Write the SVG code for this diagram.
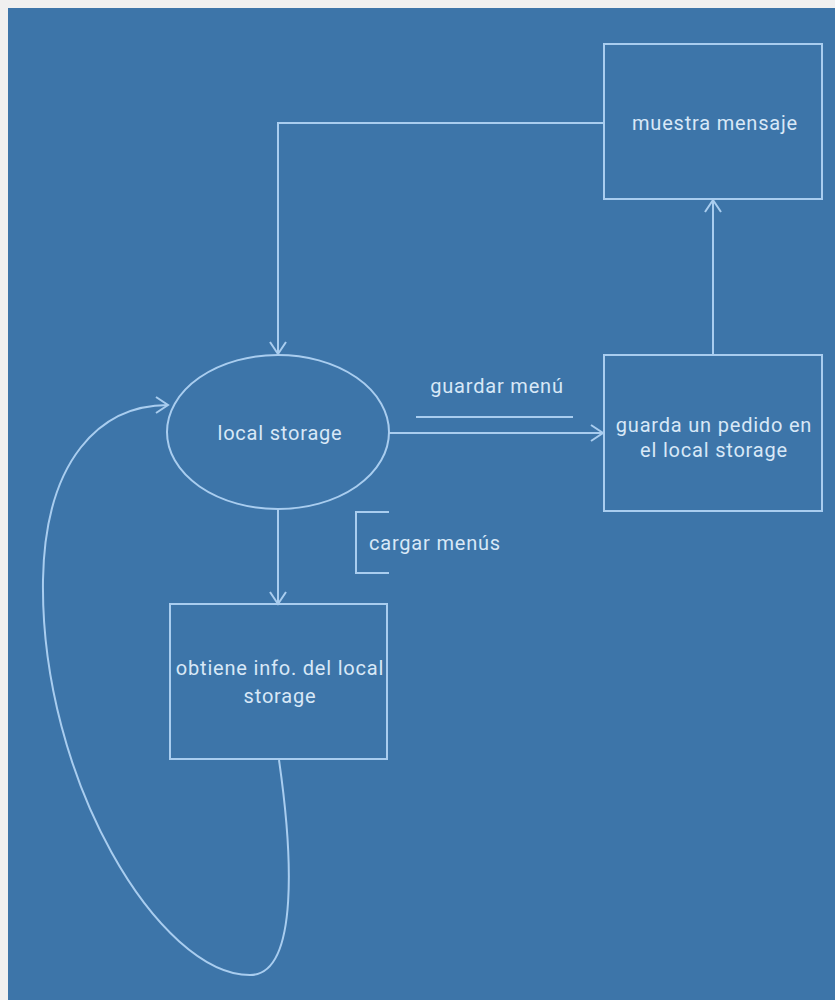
<svg xmlns="http://www.w3.org/2000/svg" width="835" height="1000" viewBox="0 0 835 1000">
  <defs>
    <style>
      .shape { fill: none; stroke: #a9cdef; stroke-width: 2; }
      .edge { fill: none; stroke: #a9cdef; stroke-width: 2; }
      .label { font-family: Roboto, "Liberation Sans", sans-serif; font-size: 20px; letter-spacing: 0.8px; fill: #d8e8f7; }
      .mid { text-anchor: middle; }
    </style>
    <marker id="open-arrow" viewBox="0 0 20 20" refX="18" refY="10" markerWidth="20" markerHeight="20" markerUnits="userSpaceOnUse" orient="auto">
      <polyline points="6,2 18,10 6,18" fill="none" stroke="#a9cdef" stroke-width="2"/>
    </marker>
  </defs>

  <!-- page frame and canvas -->
  <rect x="0" y="0" width="835" height="1000" fill="#f0f0f0"/>
  <rect x="8" y="8" width="827" height="992" fill="#3d75a9"/>

  <g id="connectors">
    <!-- muestra mensaje back to local storage -->
    <polyline class="edge" points="604,123 278,123 278,354" marker-end="url(#open-arrow)"/>
    <!-- local storage to guarda un pedido -->
    <line class="edge" x1="389" y1="433" x2="603" y2="433" marker-end="url(#open-arrow)"/>
    <!-- guarda un pedido to muestra mensaje -->
    <line class="edge" x1="713" y1="355" x2="713" y2="200" marker-end="url(#open-arrow)"/>
    <!-- local storage to obtiene info -->
    <line class="edge" x1="278" y1="510" x2="278" y2="604" marker-end="url(#open-arrow)"/>
    <!-- obtiene info looping back to local storage -->
    <path class="edge" d="M 279 760 C 292 850, 300 975, 250 975 C 160 975, 40 780, 43 580 C 45 460, 100 405, 168 405" marker-end="url(#open-arrow)"/>
  </g>

  <g id="label-guardar-menu">
    <text class="label mid" x="497" y="393">guardar menú</text>
    <line class="edge" x1="416" y1="417" x2="573" y2="417"/>
  </g>

  <g id="label-cargar-menus">
    <polyline class="edge" points="389,512 356,512 356,573 389,573"/>
    <text class="label" x="369" y="550">cargar menús</text>
  </g>

  <g id="node-muestra-mensaje">
    <rect class="shape" x="604" y="44" width="218" height="155"/>
    <text class="label mid" x="715" y="130">muestra mensaje</text>
  </g>

  <g id="node-local-storage">
    <ellipse class="shape" cx="278" cy="432" rx="111" ry="77"/>
    <text class="label mid" x="280" y="440">local storage</text>
  </g>

  <g id="node-guarda-pedido">
    <rect class="shape" x="604" y="355" width="218" height="156"/>
    <text class="label mid" x="714" y="432">guarda un pedido en</text>
    <text class="label mid" x="714" y="457">el local storage</text>
  </g>

  <g id="node-obtiene-info">
    <rect class="shape" x="170" y="604" width="217" height="155"/>
    <text class="label mid" x="280" y="675">obtiene info. del local</text>
    <text class="label mid" x="280" y="703">storage</text>
  </g>
</svg>
